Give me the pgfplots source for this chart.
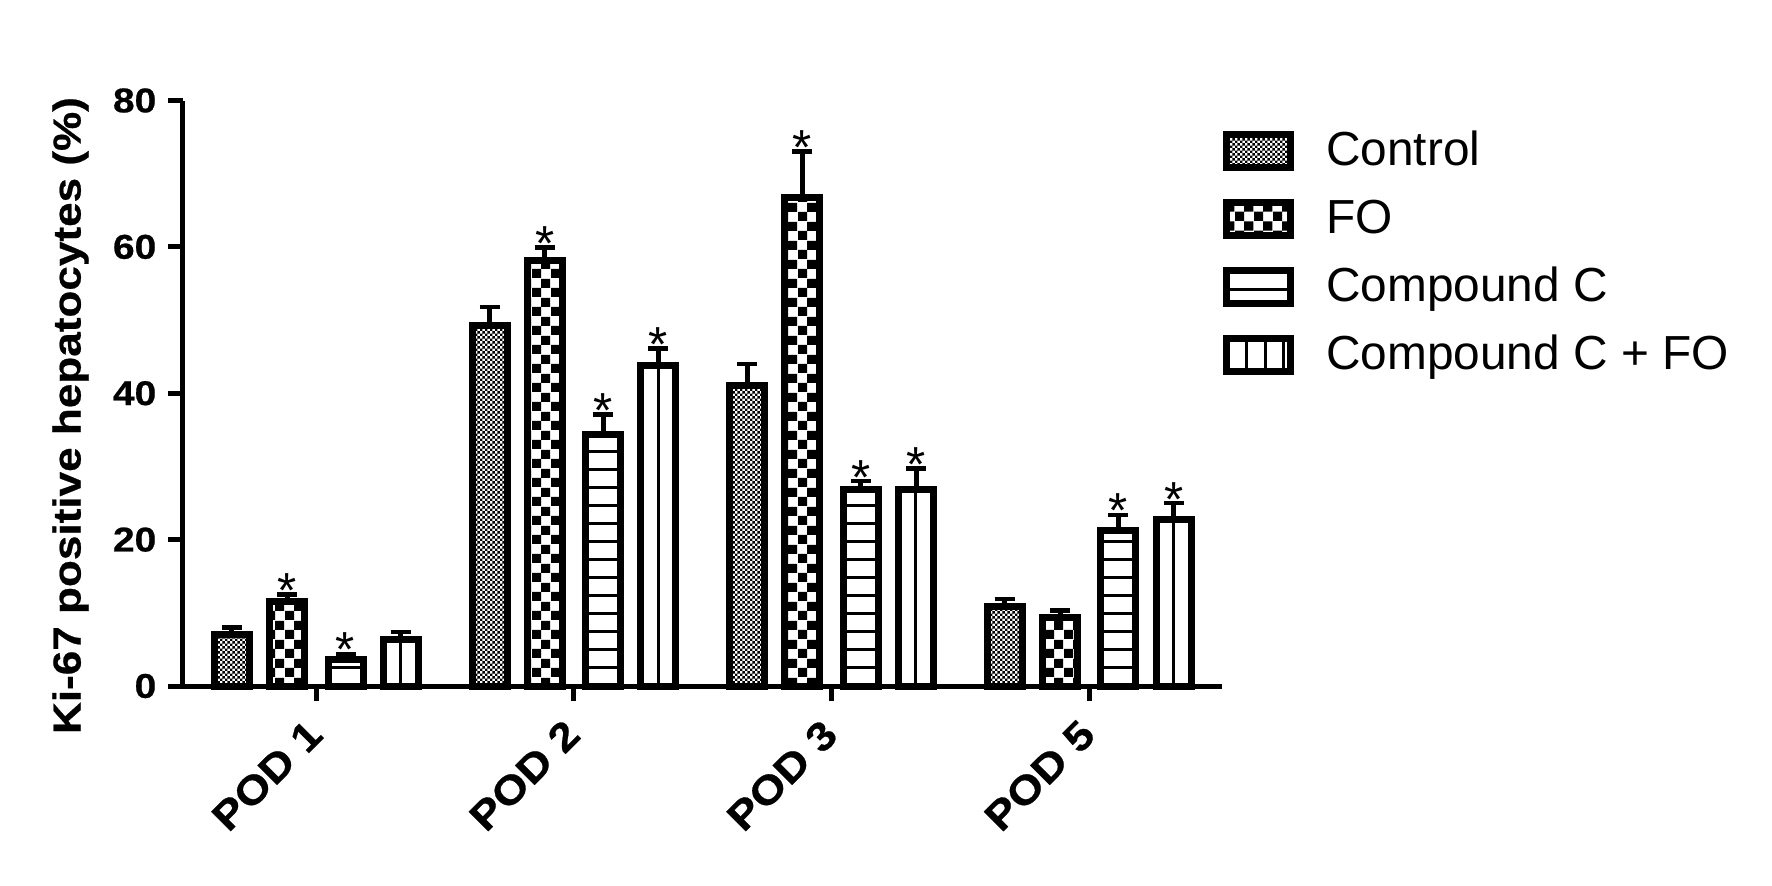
\documentclass[border=0pt]{standalone}
\usepackage{fontspec}
\setmainfont{Liberation Sans}
\newfontfamily\widefont[FakeStretch=1.13, FakeBold=0.6]{Liberation Sans}
\usepackage{pgfplots}
\usepackage{pgfplotstable}
\pgfplotsset{compat=1.18}
\usetikzlibrary{patterns}

% bar fills
\pgfdeclarepatternformonly{finecheck}{\pgfpointorigin}{\pgfqpoint{0.54mm}{0.54mm}}{\pgfqpoint{0.54mm}{0.54mm}}{%
  \pgfpathrectangle{\pgfpointorigin}{\pgfqpoint{0.27mm}{0.27mm}}%
  \pgfpathrectangle{\pgfqpoint{0.27mm}{0.27mm}}{\pgfqpoint{0.27mm}{0.27mm}}%
  \pgfusepath{fill}}
\pgfdeclarepatternformonly{bigcheck}{\pgfpointorigin}{\pgfqpoint{1.9mm}{1.9mm}}{\pgfqpoint{1.9mm}{1.9mm}}{%
  \pgfpathrectangle{\pgfpointorigin}{\pgfqpoint{0.95mm}{0.95mm}}%
  \pgfpathrectangle{\pgfqpoint{0.95mm}{0.95mm}}{\pgfqpoint{0.95mm}{0.95mm}}%
  \pgfusepath{fill}}
\pgfdeclarepatternformonly{hlinesk}{\pgfqpoint{-0.2mm}{0mm}}{\pgfqpoint{2.2mm}{1.8mm}}{\pgfqpoint{2mm}{1.8mm}}{%
  \pgfpathrectangle{\pgfqpoint{-0.2mm}{0mm}}{\pgfqpoint{2.4mm}{0.32mm}}%
  \pgfusepath{fill}}
\pgfdeclarepatternformonly{vlinesk}{\pgfqpoint{0mm}{-0.2mm}}{\pgfqpoint{1.839mm}{2.2mm}}{\pgfqpoint{1.839mm}{2mm}}{%
  \pgfpathrectangle{\pgfqpoint{1.3mm}{-0.2mm}}{\pgfqpoint{0.32mm}{2.4mm}}%
  \pgfusepath{fill}}

\pgfplotsset{
  kibar/.style={
    ybar, bar shift=0pt, bar width=3.5mm,
    draw=black, line width=0.7mm,
    error bars/.cd, y dir=plus, y explicit,
      error bar style={line width=0.5mm, black},
      error mark options={rotate=90, line width=0.45mm, mark size=1mm, black},
    /pgfplots/.cd,
    legend image code/.code={\draw[##1, line width=0.7mm] (0mm,-1.63mm) rectangle (6.45mm,1.67mm);},
  },
}

\pgfplotstableread{
x    ctl  ctlE  fo   foE  cc   ccE  ccfo ccfoE
0    7.0  1.0   11.5 1.0  3.6  0.8  6.4  1.0
1    49.2 2.6   58.1 1.8  34.4 2.7  43.8 2.3
2    41.0 3.0   66.7 6.3  26.9 1.1  26.9 2.8
3    10.9 1.0   9.4  0.9  21.2 2.2  22.8 2.2
}\kidata

\begin{document}
\begin{tikzpicture}
\path[use as bounding box] (0,0) rectangle (177.2mm,88.5mm);
\begin{axis}[
  at={(18.3mm,19.9mm)}, anchor=south west,
  scale only axis,
  width=103.9mm, height=58.55mm,
  xmin=-0.518, xmax=3.516,
  ymin=0, ymax=80,
  axis lines=left,
  axis line style={-, line width=0.5mm},
  xtick={0,1,2,3},
  xticklabels={POD 1,POD 2,POD 3,POD 5},
  ytick={0,20,40,60,80},
  tick align=outside,
  major tick length=1.5mm,
  tick style={line width=0.5mm, black},
  /pgf/number format/assume math mode=true,
  yticklabel style={font=\widefont\bfseries\fontsize{9.8}{11}\selectfont, inner sep=0pt, anchor=east, xshift=-1.1mm},
  xticklabel style={font=\widefont\bfseries\fontsize{11.4}{13}\selectfont, inner sep=0pt, xshift=-0.1mm, yshift=-2.6mm, rotate=45, anchor=east},
  ylabel={Ki-67 positive hepatocytes (\%)},
  every axis y label/.style={at={(axis description cs:-0.1083,0.462)}, rotate=90, anchor=center,
    font=\widefont\bfseries\fontsize{11.1}{13}\selectfont},
  legend style={at={(rel axis cs:1,1)}, anchor=north west, yshift=-2.95mm,
    draw=none, fill=none, inner sep=0pt, row sep=2.8mm,
    font=\fontsize{13.6}{16}\selectfont,
    nodes={inner sep=0pt},
    /tikz/every odd column/.append style={column sep=3.2mm}},
  legend cell align=left,
  clip=false,
]
\addplot[kibar, pattern=finecheck] table[x expr=\thisrow{x}-0.328, y=ctl, y error=ctlE] {\kidata};
\addlegendentry{Control}
\addplot[kibar, pattern=bigcheck] table[x expr=\thisrow{x}-0.113, y=fo, y error=foE] {\kidata};
\addlegendentry{FO}
\addplot[kibar, pattern=hlinesk] table[x expr=\thisrow{x}+0.113, y=cc, y error=ccE] {\kidata};
\addlegendentry{Compound C}
\addplot[kibar, pattern=vlinesk] table[x expr=\thisrow{x}+0.328, y=ccfo, y error=ccfoE] {\kidata};
\addlegendentry{Compound C + FO}
% significance marks, at bar value + error
\addplot[draw=none, mark=none, forget plot,
  nodes near coords={*},
  every node near coord/.style={anchor=base, yshift=-1.3mm, inner sep=0pt,
    font=\fontsize{14}{14}\selectfont}]
  coordinates {(-0.113,12.5) (0.113,4.4) (0.887,59.9) (1.113,37.1) (1.328,46.1)
               (1.887,73.0) (2.113,28.0) (2.328,29.7) (3.113,23.4) (3.328,25.0)};
\end{axis}
\end{tikzpicture}
\end{document}
